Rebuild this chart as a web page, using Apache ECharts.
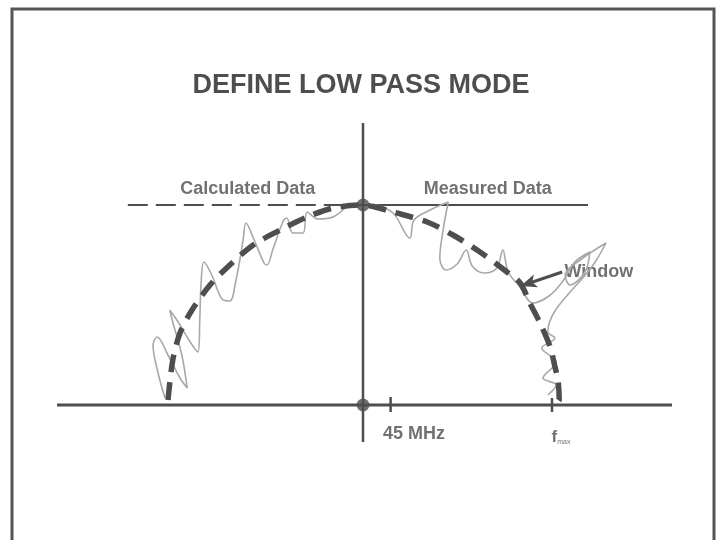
<!DOCTYPE html>
<html>
<head>
<meta charset="utf-8">
<script src="https://cdn.jsdelivr.net/npm/echarts@6/dist/echarts.min.js"></script>
<style>
html,body{margin:0;padding:0;background:#fff;}
#chart{width:722px;height:540px;}
</style>
</head>
<body>
<div id="chart"></div>
<script>
// x: frequency (MHz, 0 at centre), y: normalised amplitude (1 = passband level)
const titleText = 'DEFINE LOW PASS MODE';
const xAxisLine = [[-510, 0], [515, 0]];
const yAxisLine = [[0, -0.185], [0, 1.41]];
const calcRef = [[-392, 1.0], [0, 1.0]];
const measRef = [[0, 1.0], [375, 1.0]];
const dots = [[0, 0], [0, 1.0]];
const tick45 = [[46, 0.04], [46, -0.035]];
const tickFmax = [[315, 0.035], [315, -0.035]];
const modelCurve = [
  [-325, 0.025], [-317, 0.225], [-305, 0.36], [-285, 0.475], [-255, 0.60],
  [-222, 0.70], [-183, 0.80], [-138, 0.875], [-93, 0.94], [-50, 0.985], [0, 1.0],
  [20, 0.99], [50, 0.965], [107, 0.915], [150, 0.85], [195, 0.765], [240, 0.665],
  [262, 0.61], [278, 0.51], [295, 0.41], [312, 0.29], [320, 0.19], [325, 0.125],
  [327, 0.025], [320, 0.01]
];
const calcData = [
  [-330, 0.035], [-342, 0.165], [-350, 0.30], [-343, 0.34], [-325, 0.25], [-305, 0.135],
  [-293, 0.085], [-302, 0.25], [-318, 0.425], [-322, 0.475], [-308, 0.415], [-288, 0.315],
  [-275, 0.265], [-272, 0.43], [-270, 0.60], [-265, 0.715], [-252, 0.65], [-235, 0.53],
  [-222, 0.52], [-212, 0.62], [-200, 0.82], [-195, 0.91], [-182, 0.83], [-165, 0.71],
  [-160, 0.70], [-150, 0.78], [-133, 0.92], [-127, 0.935], [-117, 0.86], [-100, 0.86],
  [-93, 0.965], [-75, 0.93], [-50, 0.94], [-30, 0.985]
];
const measData = [
  [17, 1.005], [50, 0.96], [78, 0.835], [85, 0.925], [112, 0.975], [142, 1.015],
  [133, 0.865], [128, 0.735], [138, 0.675], [157, 0.705], [172, 0.775], [182, 0.695],
  [202, 0.66], [223, 0.685], [233, 0.775], [242, 0.665], [262, 0.59], [283, 0.51],
  [310, 0.545], [332, 0.615], [353, 0.715], [378, 0.765], [370, 0.665], [345, 0.60],
  [337, 0.65], [362, 0.725], [405, 0.81], [387, 0.715], [308, 0.365], [320, 0.335],
  [298, 0.285], [322, 0.215], [300, 0.135], [322, 0.10], [308, 0.05]
];
const windowArrow = [[332, 0.665], [263, 0.595]];
const labels = [
  {value: [-192, 1.08], text: 'Calculated Data'},
  {value: [208, 1.08], text: 'Measured Data'},
  {value: [393, 0.665], text: 'Window'},
  {value: [85, -0.145], text: '45 MHz'}
];
const fmaxLabel = [330, -0.16];

const INK = '#4e4e4e';
const chart = echarts.init(document.getElementById('chart'), null, {renderer: 'canvas'});
function seg(data, w, type, color) {
  return {type: 'line', data: data, symbol: 'none', silent: true, animation: false,
    lineStyle: {color: color || INK, width: w, type: type || 'solid'}};
}
chart.setOption({
  backgroundColor: '#ffffff',
  animation: false,
  title: {text: titleText, left: 'center', top: 67,
    textStyle: {fontFamily: 'Liberation Sans', fontSize: 27, fontWeight: 'bold', color: INK}},
  grid: {left: 3, right: 2, top: 5, bottom: 5},
  xAxis: {type: 'value', min: -600, max: 595, show: false},
  yAxis: {type: 'value', min: -0.65, max: 2.0, show: false},
  graphic: [{type: 'rect', shape: {x: 12, y: 9, width: 702, height: 560},
    style: {fill: 'none', stroke: '#555555', lineWidth: 3}, silent: true}],
  series: [
    seg(xAxisLine, 3),
    seg(yAxisLine, 2.5),
    seg(calcRef, 2, [20, 8]),
    seg(measRef, 2),
    seg(tick45, 2.5),
    seg(tickFmax, 2.5),
    Object.assign(seg(calcData, 1.6, 'solid', '#a8a8a8'), {smooth: 0.35}),
    Object.assign(seg(measData, 1.6, 'solid', '#a8a8a8'), {smooth: 0.35}),
    Object.assign(seg(modelCurve, 5.5, [18, 10]), {smooth: 0.3}),
    {type: 'scatter', data: dots, symbolSize: 13, itemStyle: {color: INK}, silent: true},
    {type: 'line', data: [], markLine: {silent: true, animation: false, symbol: ['none', 'arrow'], symbolSize: [10, 16],
      lineStyle: {color: INK, width: 3, type: 'solid'}, label: {show: false},
      data: [[{coord: windowArrow[0]}, {coord: windowArrow[1]}]]}},
    {type: 'scatter', symbolSize: 0, silent: true,
      data: labels.map(l => ({value: l.value, name: l.text})),
      label: {show: true, position: 'inside', formatter: p => p.name,
        fontFamily: 'Liberation Sans', fontSize: 18, fontWeight: 'bold', color: INK}},
    {type: 'scatter', symbolSize: 0, silent: true, data: [fmaxLabel],
      label: {show: true, position: 'inside', formatter: '{f|f}{s|max}',
        rich: {f: {fontFamily: 'Liberation Sans', fontSize: 17, fontWeight: 'bold', color: INK},
               s: {fontFamily: 'Liberation Sans', fontSize: 7, color: INK, padding: [10, 0, 0, 0]}}}}
  ]
});
</script>
</body>
</html>
